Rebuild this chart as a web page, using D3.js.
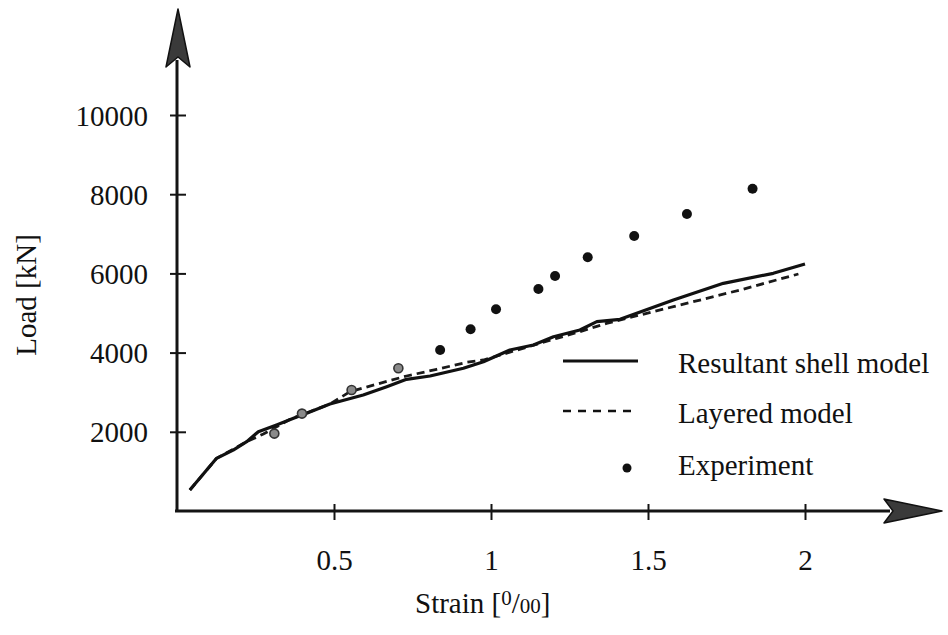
<!DOCTYPE html>
<html>
<head>
<meta charset="utf-8">
<script src="https://cdn.jsdelivr.net/npm/d3@7"></script>
<style>
  html, body { margin: 0; padding: 0; background: #fff; }
  svg { display: block; }
  text { font-family: "Liberation Serif", "DejaVu Serif", serif; fill: #111; }
</style>
</head>
<body>
<svg id="chart" width="948" height="635"></svg>
<script>
// ---- Data ----
const xTicks = [0.5, 1, 1.5, 2];
const yTicks = [2000, 4000, 6000, 8000, 10000];

const shellStrain = [0.041, 0.126, 0.179, 0.222, 0.259, 0.317, 0.371, 0.413, 0.487, 0.593, 0.668, 0.731, 0.806, 0.912, 0.976, 1.06, 1.135, 1.199, 1.283, 1.337, 1.411, 1.581, 1.740, 1.899, 2.0];
const shellLoad   = [530, 1330, 1540, 1750, 2003, 2172, 2340, 2467, 2702, 2929, 3140, 3325, 3409, 3604, 3770, 4066, 4192, 4402, 4571, 4781, 4840, 5328, 5749, 6002, 6237];

const layStrain = [0.041, 0.126, 0.222, 0.275, 0.360, 0.487, 0.551, 0.646, 0.731, 0.827, 0.923, 0.976, 1.209, 1.283, 1.368, 1.581, 1.793, 1.979];
const layLoad   = [530, 1330, 1750, 1944, 2315, 2702, 3013, 3224, 3409, 3578, 3755, 3813, 4360, 4529, 4739, 5160, 5580, 5985];

const expStrain = [0.310, 0.398, 0.556, 0.705, 0.838, 0.935, 1.016, 1.151, 1.204, 1.308, 1.456, 1.624, 1.833];
const expLoad   = [1955, 2460, 3056, 3604, 4066, 4588, 5093, 5606, 5934, 6407, 6944, 7500, 8139];

const legendLabels = ["Resultant shell model", "Layered model", "Experiment"];

// ---- Scales ----
const x = d3.scaleLinear().domain([0, 2]).range([177, 805]);
const y = d3.scaleLinear().domain([0, 10000]).range([511, 115]);

const svg = d3.select("#chart");
const ox = x(0), oy = y(0);

// ---- Axes ----
const axisColor = "#141414";
svg.append("line").attr("x1", ox - 2).attr("y1", oy).attr("x2", 890).attr("y2", oy)
  .attr("stroke", axisColor).attr("stroke-width", 3);
svg.append("line").attr("x1", ox).attr("y1", oy + 1).attr("x2", ox).attr("y2", 60)
  .attr("stroke", axisColor).attr("stroke-width", 3);

// arrowheads
svg.append("path")
  .attr("d", `M${ox + 1},9 L${ox + 13},67 L${ox + 1},57 L${ox - 11},67 Z`)
  .attr("fill", "#3a3a3a").attr("stroke", "#111").attr("stroke-width", 1.5).attr("stroke-linejoin", "round");
svg.append("path")
  .attr("d", `M942,${oy} L884,${oy - 12} L893,${oy} L884,${oy + 12} Z`)
  .attr("fill", "#3a3a3a").attr("stroke", "#111").attr("stroke-width", 1.5).attr("stroke-linejoin", "round");

// x ticks
const xAxis = d3.axisBottom(x).tickValues(xTicks).tickSize(0).tickFormat(d3.format("~g"));
const gx = svg.append("g").attr("transform", `translate(0,${oy})`).call(xAxis);
gx.select(".domain").remove();
gx.selectAll(".tick text").attr("y", 59).attr("dy", 0)
  .style("font-size", "29px").style("font-family", "Liberation Serif").attr("fill", "#111");
gx.selectAll(".tick").append("line").attr("y1", -7).attr("y2", 9)
  .attr("stroke", axisColor).attr("stroke-width", 2);

// y ticks
const yAxis = d3.axisLeft(y).tickValues(yTicks).tickSize(0).tickFormat(d3.format("d"));
const gy = svg.append("g").attr("transform", `translate(${ox},0)`).call(yAxis);
gy.select(".domain").remove();
gy.selectAll(".tick text").attr("x", -29).attr("dy", "0.35em")
  .style("font-size", "29px").style("font-family", "Liberation Serif").attr("fill", "#111");
gy.selectAll(".tick").append("line").attr("x1", -7).attr("x2", 9)
  .attr("stroke", axisColor).attr("stroke-width", 2);

// axis titles
svg.append("text").attr("transform", "translate(36,295) rotate(-90)")
  .attr("text-anchor", "middle").style("font-size", "29px").text("Load [kN]");

const xt = svg.append("text").attr("x", 415).attr("y", 613).style("font-size", "29px");
xt.append("tspan").text("Strain [");
xt.append("tspan").attr("dy", -8).style("font-size", "21px").text("0");
xt.append("tspan").attr("dy", 8).text("/");
xt.append("tspan").style("font-size", "21px").text("00");
xt.append("tspan").text("]");

// ---- Lines ----
const line = d3.line().x(d => x(d[0])).y(d => y(d[1]));
const shellData = shellStrain.map((s, i) => [s, shellLoad[i]]);
const layData = layStrain.map((s, i) => [s, layLoad[i]]);

svg.append("path").datum(layData).attr("d", line)
  .attr("fill", "none").attr("stroke", "#1a1a1a").attr("stroke-width", 2.8)
  .attr("stroke-dasharray", "8,5");
svg.append("path").datum(shellData).attr("d", line)
  .attr("fill", "none").attr("stroke", "#111").attr("stroke-width", 3.2)
  .attr("stroke-linejoin", "round");

// ---- Experiment points ----
const expData = expStrain.map((s, i) => [s, expLoad[i]]);
svg.selectAll("circle.exp").data(expData).enter().append("circle")
  .attr("class", "exp")
  .attr("cx", d => x(d[0])).attr("cy", d => y(d[1]))
  .attr("r", (d, i) => i < 4 ? 4.5 : 5)
  .attr("fill", (d, i) => i < 4 ? "#8a8a8a" : "#111")
  .attr("stroke", (d, i) => i < 4 ? "#333" : "none")
  .attr("stroke-width", 1.6);

// ---- Legend ----
svg.append("line").attr("x1", 563).attr("x2", 638).attr("y1", 361).attr("y2", 361)
  .attr("stroke", "#111").attr("stroke-width", 3);
svg.append("line").attr("x1", 563).attr("x2", 634).attr("y1", 411).attr("y2", 411)
  .attr("stroke", "#111").attr("stroke-width", 2.6).attr("stroke-dasharray", "8,7");
svg.append("circle").attr("cx", 627).attr("cy", 468).attr("r", 4.5).attr("fill", "#111");

const legendY = [373, 423, 475];
svg.selectAll("text.leg").data(legendLabels).enter().append("text")
  .attr("class", "leg").attr("x", 678).attr("y", (d, i) => legendY[i])
  .style("font-size", "29px").text(d => d);
</script>
</body>
</html>
